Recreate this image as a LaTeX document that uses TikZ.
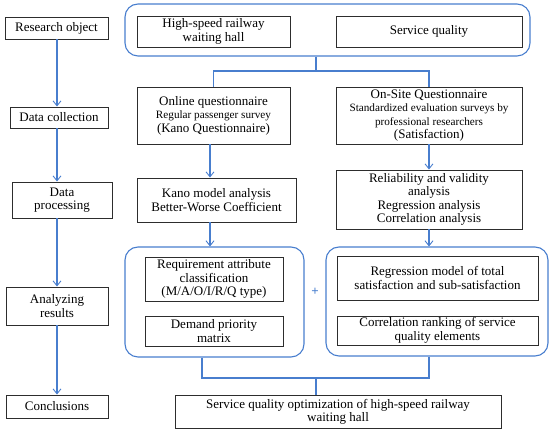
\documentclass[tikz,border=0pt]{standalone}
\usepackage{fontspec}
\setmainfont{Liberation Serif}
\usetikzlibrary{arrows.meta}
\definecolor{lineblue}{RGB}{72,126,206}
\definecolor{boxgray}{RGB}{45,45,45}
\begin{document}
\begin{tikzpicture}[x=1pt,y=-1pt,
  box/.style={draw=boxgray,line width=0.9pt,fill=white,inner sep=1pt,align=center,
    font=\fontsize{13}{13.4}\selectfont},
  grp/.style={draw=lineblue,line width=1.1pt,rounded corners=13pt},
  link/.style={draw=lineblue,line width=1.1pt},
  arr/.style={link,-{Straight Barb[length=5pt,width=8pt,line width=0.9pt]}}]
\useasboundingbox (0,0) rectangle (550,435);
\newcommand{\smalltxt}{\fontsize{11.2}{12.6}\selectfont}
% left column
\node[box,minimum width=103pt,minimum height=22pt] (ro) at (56.5,28) {Research object};
\node[box,minimum width=98pt,minimum height=21pt] (dc) at (59,117.5) {Data collection};
\node[box,minimum width=100pt,minimum height=36pt] (dp) at (62,200) {Data\\processing};
\node[box,minimum width=102pt,minimum height=38pt] (ar) at (57,306) {Analyzing\\results};
\node[box,minimum width=102pt,minimum height=23pt] (co) at (57,406.5) {Conclusions};
\coordinate (lx) at (57,0);
\draw[arr] (ro.south -| lx) -- (dc.north -| lx);
\draw[arr] (dc.south -| lx) -- (dp.north -| lx);
\draw[arr] (dp.south -| lx) -- (ar.north -| lx);
\draw[arr] (ar.south -| lx) -- (co.north -| lx);
% top group
\node[grp,minimum width=405pt,minimum height=52pt] (top) at (327.5,30) {};
\node[box,minimum width=153pt,minimum height=31pt] (hs) at (213.5,31.5) {High-speed railway\\waiting hall};
\node[box,minimum width=186pt,minimum height=31pt] (sq) at (429,31.5) {Service quality};
% questionnaires
\node[box,minimum width=153pt,minimum height=57pt] (oq) at (213.5,115.5) {Online questionnaire\\{\smalltxt Regular passenger survey}\\(Kano Questionnaire)};
\node[box,minimum width=186pt,minimum height=57pt] (os) at (429,115.5) {On-Site Questionnaire\\{\smalltxt Standardized evaluation surveys by}\\{\smalltxt professional researchers}\\(Satisfaction)};
\coordinate (tsplit) at (316,71);
\draw[link] (top.south -| tsplit) -- (tsplit);
\draw[link] (oq.north) |- (tsplit) -| (os.north);
% processing
\node[box,minimum width=159pt,minimum height=44pt] (km) at (216.5,200) {Kano model analysis\\Better-Worse Coefficient};
\node[box,minimum width=186pt,minimum height=59pt] (rv) at (429,199.5) {Reliability and validity\\analysis\\Regression analysis\\Correlation analysis};
\coordinate (kx) at (210,0);
\draw[arr] (oq.south -| kx) -- (km.north -| kx);
\draw[arr] (os.south) -- (rv.north);
% results groups
\node[grp,minimum width=179pt,minimum height=110pt] (lg) at (214.5,302) {};
\node[grp,minimum width=222pt,minimum height=109pt] (rg) at (437,301.5) {};
\node[box,minimum width=138pt,minimum height=44pt] (ra) at (214,279) {Requirement attribute\\classification\\(M/A/O/I/R/Q type)};
\node[box,minimum width=138pt,minimum height=30pt] (dm) at (214,331) {Demand priority\\matrix};
\node[box,minimum width=201pt,minimum height=44pt] (rm) at (437.5,278) {Regression model of total\\satisfaction and sub-satisfaction};
\node[box,minimum width=201pt,minimum height=29pt] (cr) at (437.5,330.5) {Correlation ranking of service\\quality elements};
\node[text=lineblue,font=\fontsize{13}{13}\selectfont\bfseries,inner sep=0pt] (plus) at (315,292) {+};
\draw[arr] (km.south -| kx) -- (lg.north -| kx);
\draw[arr] (rv.south) -- (rg.north -| rv.south);
% conclusion
\node[box,minimum width=326pt,minimum height=33pt] (so) at (338,412) {Service quality optimization of high-speed railway\\waiting hall};
\coordinate (bsplit) at (316,378);
\coordinate (lgx) at (202,0);
\draw[link] (lg.south -| lgx) |- (bsplit) -| (rg.south -| rv.south);
\draw[link] (bsplit) -- (so.north -| bsplit);
\end{tikzpicture}
\end{document}
